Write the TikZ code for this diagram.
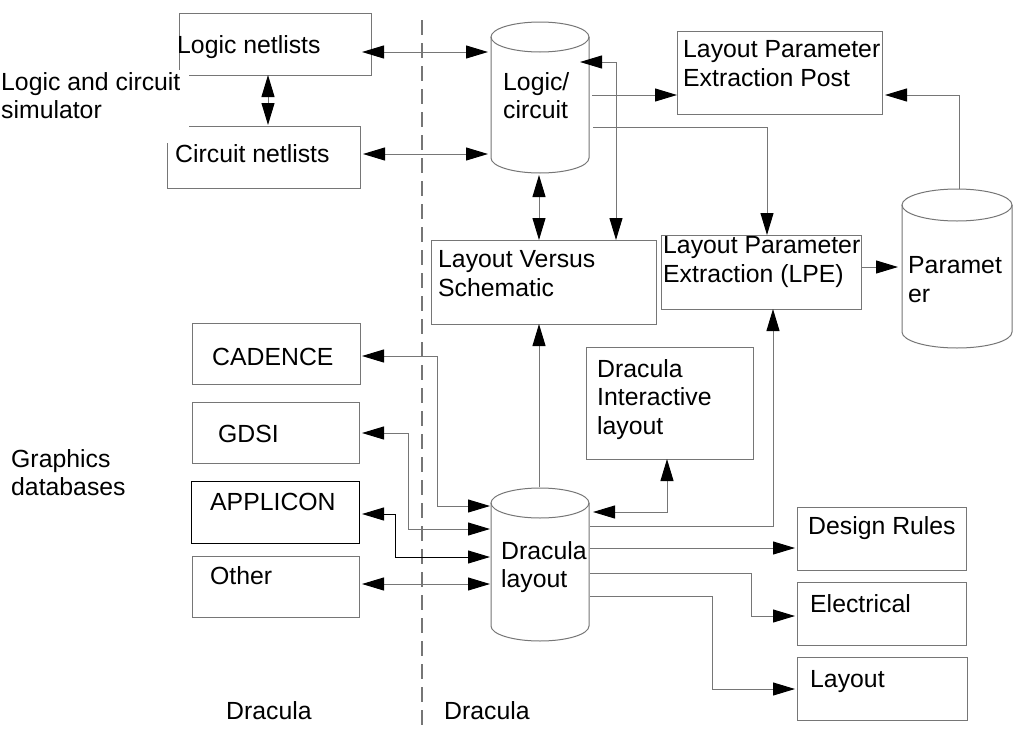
\documentclass[tikz,border=0pt]{standalone}
\usepackage{fontspec}
\setmainfont{Liberation Sans}
\usetikzlibrary{arrows.meta}
\definecolor{lncol}{RGB}{118,118,118}
\begin{document}
\begin{tikzpicture}[x=1pt,y=-1pt,
  >={Triangle[length=22pt,width=13pt,color=black]},
  box/.style={draw=lncol, line width=1pt, anchor=north west, inner sep=0pt},
  txt/.style={anchor=base west, inner sep=0pt, align=left, font=\fontsize{24.8}{29}\selectfont},
  con/.style={draw=lncol, line width=1pt},
  cylline/.style={draw=lncol, line width=1pt}]
\useasboundingbox (0,0) rectangle (1013,742);
\fill[white] (0,0) rectangle (1013,742);

% boxes
\node[box, minimum width=192, minimum height=62] (ln) at (179,13) {};
\node[box, minimum width=193, minimum height=62] (cn) at (167,126) {};
\node[box, minimum width=205, minimum height=83] (post) at (677,31) {};
\node[box, minimum width=225, minimum height=84] (lvs) at (431,240) {};
\node[box, minimum width=200, minimum height=74] (lpe) at (661,235) {};
\node[box, minimum width=167, minimum height=112] (dil) at (586,347) {};
\node[box, minimum width=168, minimum height=61] (cad) at (192,323) {};
\node[box, minimum width=167, minimum height=61] (gdsi) at (192,402) {};
\node[box, draw=black, minimum width=168, minimum height=62] (app) at (191,481) {};
\node[box, minimum width=167, minimum height=61] (oth) at (192,556) {};
\node[box, minimum width=169, minimum height=63] (dr) at (797,507) {};
\node[box, minimum width=169, minimum height=63] (el) at (797,582) {};
\node[box, minimum width=170, minimum height=63] (lay) at (797,657) {};

% cylinders
\draw[cylline] (491,37) -- (491,158) arc[start angle=180, end angle=0, x radius=49, y radius=15] -- (589,37);
\draw[cylline] (540,37) ellipse [x radius=49, y radius=15];
\node[inner sep=0pt, minimum width=98, minimum height=151] (lc) at (540,97) {};
\draw[cylline] (902,205) -- (902,332) arc[start angle=180, end angle=0, x radius=55, y radius=16] -- (1012,205);
\draw[cylline] (957,205) ellipse [x radius=55, y radius=16];
\node[inner sep=0pt, minimum width=110, minimum height=159] (par) at (957,268) {};
\draw[cylline] (491,503) -- (491,626) arc[start angle=180, end angle=0, x radius=49, y radius=15] -- (589,503);
\draw[cylline] (540,503) ellipse [x radius=49, y radius=15];
\node[inner sep=0pt, minimum width=98, minimum height=153] (dl) at (540,565) {};

% dashed divider
\draw[draw=lncol, line width=1.3pt, dash pattern=on 15pt off 8pt] (422,20) -- (422,730);

% cover behind left label
\fill[white] (0,70) rectangle (189,143);

% texts (multi-line nodes are anchored at the baseline of their last line)
\node[txt] (ln-t) at (177,53) {Logic netlists};
\node[txt] (cn-t) at (175,162) {Circuit netlists};
\node[txt, font=\fontsize{24.8}{28}\selectfont] (sim-t) at (1,118) {Logic and circuit\\simulator};
\node[txt, font=\fontsize{24.8}{28}\selectfont] (lc-t) at (503,118) {Logic/\\circuit};
\node[txt] (post-t) at (683,86) {Layout Parameter\\Extraction Post};
\node[txt] (lvs-t) at (438,296) {Layout Versus\\Schematic};
\node[txt] (lpe-t) at (663,282) {Layout Parameter\\Extraction (LPE)};
\node[txt] (par-t) at (908,302) {Paramet\\er};
\node[txt, font=\fontsize{24.8}{28.5}\selectfont] (dil-t) at (597,434) {Dracula\\Interactive\\layout};
\node[txt, font=\fontsize{24.8}{28}\selectfont] (gfx-t) at (11,495) {Graphics\\databases};
\node[txt, font=\fontsize{24.8}{28}\selectfont] (dl-t) at (501,587) {Dracula\\layout};
\node[txt] (cad-t) at (212,365) {CADENCE};
\node[txt] (gdsi-t) at (218,442) {GDSI};
\node[txt] (app-t) at (210,510) {APPLICON};
\node[txt] (oth-t) at (210,584) {Other};
\node[txt] (dr-t) at (808,534) {Design Rules};
\node[txt] (el-t) at (810,612) {Electrical};
\node[txt] (lay-t) at (810,687) {Layout};
\node[txt] (d1-t) at (226,719) {Dracula};
\node[txt] (d2-t) at (444,719) {Dracula};

% connectors
\draw[con,<->] (362,52) -- (488,52);
\draw[con,<->] (363,154) -- (488,154);
\draw[con,<->] (268,75) -- (268,125);
\draw[con,->] (592,95) -- (677,95);
\draw[con,->] (593,127) -| (767,235);
\draw[con,<->] (539,175) -- (539,240);
\draw[con,<->] (580,62) -| (616,240);
\draw[con,->] (861,267) -- (898,267);
\draw[con,->] (959,189) |- (885,95);
\draw[con,->] (539,487) -- (539,324);
\draw[con,<->] (593,512) -| (667,459);
\draw[con,->] (590,526) -| (773,309);
\draw[con,->] (590,548) -- (795,548);
\draw[con,->] (590,573) -- (751,573) |- (795,616);
\draw[con,->] (590,596) -- (712,596) |- (795,689);
\draw[con,<->] (362,356) -- (437,356) |- (490,506);
\draw[con,<->] (362,433) -- (408,433) |- (490,529);
\draw[con,<->,draw=black] (362,514) -- (395,514) |- (490,557);
\draw[con,<->] (362,584) -- (490,584);
\end{tikzpicture}
\end{document}
